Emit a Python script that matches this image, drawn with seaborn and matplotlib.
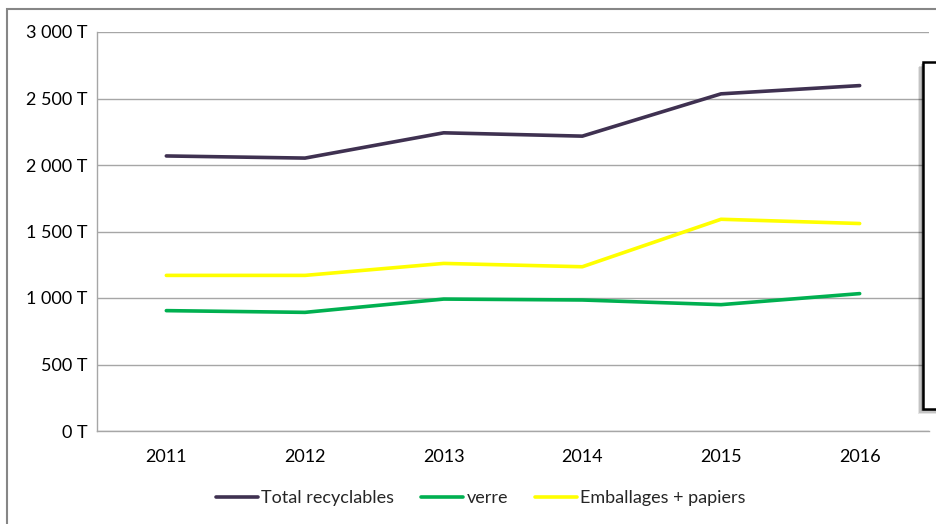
import pandas as pd
import numpy as np
import matplotlib
matplotlib.use('Agg')
import matplotlib.pyplot as plt
import matplotlib.patches as mpatches
import matplotlib.ticker as mticker
import seaborn as sns

# data (tonnes)
years = ['2011', '2012', '2013', '2014', '2015', '2016']
total = [2068, 2052, 2242, 2217, 2535, 2597]
verre = [905, 892, 992, 985, 950, 1033]
emballages = [1170, 1170, 1260, 1235, 1592, 1560]
series_names = ['Total recyclables', 'verre', 'Emballages + papiers']
colors = ['#3F3151', '#00B050', '#FFFF00']

df = pd.DataFrame({
    'annee': years * 3,
    'tonnes': total + verre + emballages,
    'serie': np.repeat(series_names, len(years)),
})

sns.set_style('white')
plt.rcParams['font.family'] = ['Lato', 'DejaVu Sans']

fig = plt.figure(figsize=(9.36, 5.24), dpi=100)
ax = fig.add_axes([97 / 936, 1 - 431 / 524, 832 / 936, 399 / 524])

sns.lineplot(data=df, x='annee', y='tonnes', hue='serie', hue_order=series_names,
             palette=colors, linewidth=2.6, ax=ax, sort=False)

ax.set_xlim(-0.5, 5.5)
ax.set_ylim(0, 3000)
ax.yaxis.set_major_locator(mticker.MultipleLocator(500))
ax.yaxis.set_major_formatter(mticker.FuncFormatter(
    lambda v, p: '{:,.0f} T'.format(v).replace(',', ' ')))
ax.grid(axis='y', color='#A6A6A6', linewidth=1)
ax.set_axisbelow(True)
ax.set_xlabel('')
ax.set_ylabel('')
ax.tick_params(axis='both', length=0, labelsize=13, colors='black')
ax.tick_params(axis='y', pad=7)
ax.tick_params(axis='x', pad=13)
for side in ['top', 'right']:
    ax.spines[side].set_visible(False)
for side in ['left', 'bottom']:
    ax.spines[side].set_color('#A6A6A6')
    ax.spines[side].set_linewidth(1)

# legend at the bottom
handles, labels = ax.get_legend_handles_labels()
ax.legend(handles, labels, loc='center', bbox_to_anchor=(481 / 936, 26 / 524),
          bbox_transform=fig.transFigure, ncol=3, frameon=False, fontsize=13,
          handlelength=2.3, handletextpad=0.2, columnspacing=1.5)

# outer chart frame (cut off on right and bottom)
fig.patches.append(mpatches.Rectangle((7 / 936, -0.1), 1.2, 1 - 9 / 524 + 0.1,
                                      transform=fig.transFigure, fill=False,
                                      edgecolor='#868686', linewidth=1.5))

# empty box on the right with a soft shadow
for i, a in enumerate([0.10, 0.14, 0.18, 0.22]):
    off = (4 - i) * 1.2
    fig.patches.append(mpatches.Rectangle(((923 - off) / 936, (524 - 409 - off) / 524),
                                          0.2, 347 / 524, transform=fig.transFigure,
                                          facecolor='black', edgecolor='none', alpha=a,
                                          zorder=5))
fig.patches.append(mpatches.Rectangle((923 / 936, (524 - 409) / 524), 0.2, 347 / 524,
                                      transform=fig.transFigure, facecolor='white',
                                      edgecolor='black', linewidth=1.8, zorder=6))

fig.savefig('out.png', dpi=100)
